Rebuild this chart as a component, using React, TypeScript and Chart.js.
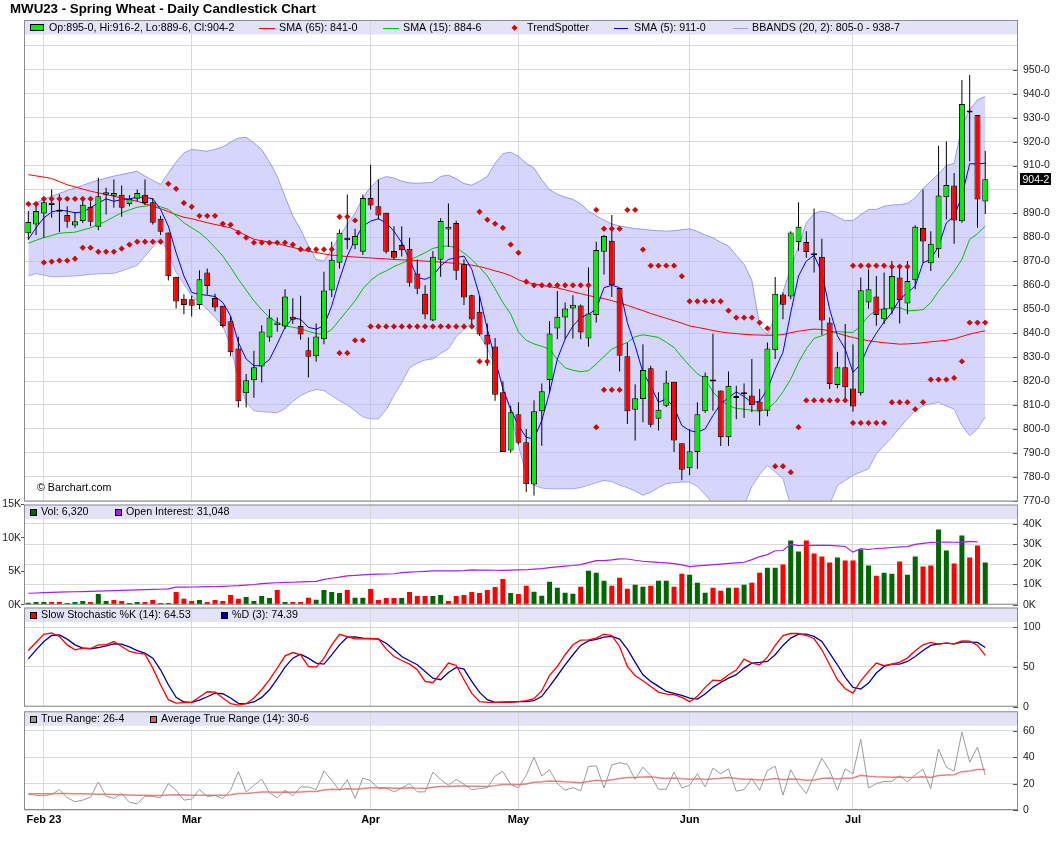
import React, { useEffect, useRef } from 'react';
import { Chart, registerables } from 'chart.js';

Chart.register(...registerables);

const FONT = '"Liberation Sans", Arial, Helvetica, sans-serif';
Chart.defaults.font.family = FONT;

// ---------------- data ----------------
const TITLE = 'MWU23 - Spring Wheat - Daily Candlestick Chart';

const DATES: string[] = [
  '2023-01-30', '2023-01-31',
  '2023-02-01', '2023-02-02', '2023-02-03', '2023-02-06', '2023-02-07', '2023-02-08', '2023-02-09', '2023-02-10',
  '2023-02-13', '2023-02-14', '2023-02-15', '2023-02-16', '2023-02-17', '2023-02-21', '2023-02-22', '2023-02-23',
  '2023-02-24', '2023-02-27', '2023-02-28',
  '2023-03-01', '2023-03-02', '2023-03-03', '2023-03-06', '2023-03-07', '2023-03-08', '2023-03-09', '2023-03-10',
  '2023-03-13', '2023-03-14', '2023-03-15', '2023-03-16', '2023-03-17', '2023-03-20', '2023-03-21', '2023-03-22',
  '2023-03-23', '2023-03-24', '2023-03-27', '2023-03-28', '2023-03-29', '2023-03-30', '2023-03-31',
  '2023-04-03', '2023-04-04', '2023-04-05', '2023-04-06', '2023-04-10', '2023-04-11', '2023-04-12', '2023-04-13',
  '2023-04-14', '2023-04-17', '2023-04-18', '2023-04-19', '2023-04-20', '2023-04-21', '2023-04-24', '2023-04-25',
  '2023-04-26', '2023-04-27', '2023-04-28',
  '2023-05-01', '2023-05-02', '2023-05-03', '2023-05-04', '2023-05-05', '2023-05-08', '2023-05-09', '2023-05-10',
  '2023-05-11', '2023-05-12', '2023-05-15', '2023-05-16', '2023-05-17', '2023-05-18', '2023-05-19', '2023-05-22',
  '2023-05-23', '2023-05-24', '2023-05-25', '2023-05-26', '2023-05-30', '2023-05-31',
  '2023-06-01', '2023-06-02', '2023-06-05', '2023-06-06', '2023-06-07', '2023-06-08', '2023-06-09', '2023-06-12',
  '2023-06-13', '2023-06-14', '2023-06-15', '2023-06-16', '2023-06-20', '2023-06-21', '2023-06-22', '2023-06-23',
  '2023-06-26', '2023-06-27', '2023-06-28', '2023-06-29', '2023-06-30',
  '2023-07-03', '2023-07-05', '2023-07-06', '2023-07-07', '2023-07-10', '2023-07-11', '2023-07-12', '2023-07-13',
  '2023-07-14', '2023-07-17', '2023-07-18', '2023-07-19', '2023-07-20', '2023-07-21', '2023-07-24', '2023-07-25',
  '2023-07-26', '2023-07-27',
];

const OPEN: number[] = [
  881.7, 885.4, 890.0, 893.5, 891.3, 889.4, 885.0, 886.9, 892.8, 884.4,
  897.8, 897.4, 897.8, 894.0, 896.1, 897.8, 894.7, 887.8, 882.0, 863.6,
  854.4, 854.2, 851.8, 865.3, 854.7, 851.4, 845.0, 833.6, 814.9, 820.3,
  826.1, 838.2, 843.3, 842.8, 846.8, 843.0, 832.9, 830.3, 837.5, 857.8,
  869.4, 879.9, 876.7, 874.0, 896.5, 893.0, 890.3, 874.3, 876.8, 875.3,
  864.9, 856.5, 845.3, 870.7, 883.3, 886.0, 868.8, 855.8, 848.9, 839.3,
  834.4, 815.3, 791.0, 806.1, 794.4, 776.8, 807.4, 820.4, 841.9, 846.5,
  850.3, 851.5, 837.8, 847.6, 874.0, 878.6, 858.9, 830.3, 808.0, 812.5,
  825.3, 804.2, 809.7, 819.7, 794.0, 783.6, 790.3, 807.4, 820.4, 816.0,
  796.5, 813.5, 815.0, 813.9, 811.4, 807.6, 832.9, 856.1, 855.3, 878.1,
  878.1, 873.2, 871.9, 844.4, 818.3, 825.7, 816.9, 814.9, 852.8, 855.3,
  845.8, 850.3, 863.2, 852.4, 862.1, 883.9, 869.2, 875.0, 896.8, 901.7,
  886.8, 932.9, 931.1, 895.0,
];
const HIGH: number[] = [
  891.0, 894.4, 896.5, 900.0, 898.0, 893.0, 890.5, 895.8, 895.0, 904.9,
  900.7, 904.2, 901.7, 897.6, 900.0, 904.2, 896.5, 889.0, 882.0, 863.6,
  856.2, 855.6, 866.3, 867.0, 856.5, 851.4, 847.0, 838.5, 822.9, 832.6,
  843.3, 850.0, 846.5, 858.3, 854.6, 855.6, 838.2, 844.0, 865.7, 878.2,
  883.3, 897.9, 883.6, 897.9, 910.4, 904.2, 890.3, 884.7, 884.7, 879.9,
  870.8, 860.0, 874.3, 888.0, 894.2, 887.0, 870.8, 856.0, 855.6, 844.0,
  838.0, 819.9, 809.7, 811.1, 800.0, 812.0, 819.0, 845.1, 857.6, 852.8,
  855.8, 852.0, 867.4, 878.2, 881.0, 889.4, 858.9, 836.0, 818.7, 835.4,
  826.4, 815.3, 824.3, 819.7, 794.0, 800.0, 811.1, 823.6, 839.8, 816.0,
  824.0, 818.0, 819.0, 829.2, 816.7, 836.1, 863.5, 857.0, 882.6, 894.7,
  882.6, 892.1, 879.4, 846.5, 832.2, 843.8, 835.4, 863.2, 866.7, 863.9,
  865.3, 870.1, 868.1, 870.1, 885.1, 900.0, 882.6, 918.3, 920.1, 906.9,
  945.8, 947.9, 931.1, 916.25,
];
const LOW: number[] = [
  879.0, 881.0, 879.9, 888.2, 882.2, 884.0, 884.0, 886.0, 884.7, 883.0,
  889.6, 892.4, 888.6, 893.0, 895.0, 893.5, 885.4, 881.0, 862.0, 850.3,
  847.9, 847.0, 850.0, 856.0, 849.0, 842.4, 830.3, 808.9, 808.9, 813.0,
  819.4, 836.4, 840.6, 841.7, 843.8, 837.2, 821.5, 828.0, 835.4, 855.1,
  867.0, 875.0, 875.0, 872.6, 891.7, 887.5, 873.3, 870.8, 872.0, 859.4,
  856.3, 845.8, 845.0, 863.6, 876.0, 862.2, 851.8, 841.9, 838.9, 826.4,
  811.8, 790.3, 790.0, 793.5, 773.6, 772.2, 793.0, 815.0, 837.5, 837.5,
  837.8, 837.5, 834.3, 844.4, 864.5, 855.1, 824.0, 802.0, 795.1, 802.8,
  800.7, 799.3, 809.0, 790.3, 778.5, 780.6, 783.3, 806.7, 807.6, 792.8,
  792.8, 804.0, 804.5, 807.0, 801.4, 805.3, 829.2, 845.8, 854.2, 874.3,
  871.5, 865.3, 839.2, 816.7, 817.0, 811.8, 807.2, 813.9, 850.3, 843.1,
  843.8, 847.9, 844.0, 847.9, 858.3, 869.4, 866.0, 871.5, 887.5, 877.4,
  886.1, 911.8, 884.0, 889.75,
];
const CLOSE: number[] = [
  886.4, 891.0, 894.7, 894.5, 890.7, 886.5, 886.8, 893.6, 886.5, 897.2,
  898.9, 898.5, 892.4, 896.2, 898.6, 894.4, 886.1, 882.4, 863.8, 853.2,
  851.8, 851.4, 862.5, 859.7, 850.7, 843.0, 832.0, 811.5, 820.3, 825.7,
  840.7, 846.5, 844.4, 855.3, 845.6, 839.4, 830.1, 838.6, 857.8, 870.7,
  881.9, 878.8, 880.6, 896.5, 893.3, 889.2, 874.0, 871.5, 874.6, 861.1,
  858.6, 847.8, 871.9, 886.9, 884.4, 866.1, 854.9, 845.7, 839.4, 835.3,
  814.3, 790.3, 806.9, 794.2, 776.9, 807.4, 815.7, 839.9, 846.9, 850.3,
  851.9, 840.3, 848.2, 874.7, 880.6, 860.0, 830.6, 807.4, 812.8, 824.6,
  801.7, 808.0, 819.4, 795.1, 782.9, 790.7, 806.1, 822.2, 819.8, 796.5,
  818.0, 812.9, 814.5, 810.0, 807.6, 833.6, 856.5, 851.9, 882.0, 884.4,
  873.9, 872.5, 845.3, 818.8, 825.7, 817.4, 809.4, 857.9, 858.3, 847.6,
  850.3, 863.9, 853.8, 861.8, 884.4, 878.3, 877.4, 897.5, 901.9, 887.1,
  935.7, 932.2, 895.8, 904.25,
];

const SMA5: number[] = [
  879.2, 884.0, 888.2, 890.6, 891.4, 891.0, 890.3, 890.6, 892.4, 894.4,
  896.1, 895.1, 895.8, 896.1, 896.8, 896.8, 896.1, 891.7, 884.7, 873.6,
  863.9, 857.0, 856.2, 855.8, 855.3, 852.8, 847.2, 836.1, 829.2, 826.4,
  826.4, 829.0, 835.5, 842.5, 846.3, 845.8, 842.4, 841.7, 843.0, 851.4,
  862.5, 872.2, 879.2, 884.7, 886.8, 887.8, 886.1, 882.6, 877.8, 870.8,
  863.2, 862.5, 863.9, 868.1, 870.8, 871.5, 872.2, 866.7, 855.6, 841.7,
  829.2, 816.7, 808.3, 801.4, 796.5, 795.8, 803.5, 815.3, 829.2, 837.5,
  843.0, 846.5, 847.9, 850.0, 859.0, 860.0, 859.0, 844.4, 834.7, 823.6,
  818.0, 811.1, 812.5, 809.0, 801.4, 799.3, 798.6, 800.0, 805.6, 810.5,
  813.0, 815.5, 813.5, 811.0, 811.5, 816.5, 825.0, 832.0, 848.6, 863.9,
  870.1, 872.5, 865.3, 850.0, 838.9, 833.3, 823.6, 827.1, 834.7, 840.0,
  844.7, 848.6, 854.2, 856.9, 859.7, 869.4, 870.8, 876.4, 886.1, 888.9,
  897.2, 910.8, 910.7, 911.0,
];
const SMA15: number[] = [
  877.5, 878.8, 879.9, 880.8, 881.7, 882.0, 882.2, 883.1, 884.0, 885.4,
  886.8, 888.6, 890.3, 891.5, 892.6, 893.1, 893.5, 892.8, 891.7, 889.0,
  886.1, 884.0, 882.0, 879.2, 875.8, 872.2, 867.5, 862.5, 858.0, 853.5,
  849.8, 846.5, 844.4, 843.0, 842.5, 841.8, 840.8, 839.8, 839.5, 841.5,
  845.5, 849.5, 853.5, 858.5, 862.0, 864.5, 866.0, 867.8, 869.2, 870.6,
  872.0, 873.6, 875.4, 876.2, 876.4, 875.7, 873.5, 870.8, 867.5, 863.9,
  858.5, 852.8, 848.0, 840.5, 837.0, 835.5, 834.5, 833.3, 829.0, 825.5,
  824.5, 823.9, 824.3, 827.1, 830.3, 833.3, 834.8, 836.1, 838.5, 839.3,
  838.8, 838.2, 836.2, 834.0, 830.0, 826.4, 823.0, 821.0, 815.5, 812.0,
  809.7, 808.6, 808.2, 807.8, 807.3, 808.3, 811.1, 815.5, 820.8, 827.8,
  833.5, 837.8, 838.9, 840.2, 840.7, 840.4, 840.3, 843.0, 847.2, 849.5,
  850.1, 850.5, 850.7, 849.3, 849.5, 849.8, 852.8, 857.5, 861.5, 865.8,
  870.8, 879.2, 881.5, 884.75,
];
const SMA65: number[] = [
  906.2, 905.7, 905.2, 904.6, 903.3, 902.0, 901.1, 900.2, 899.3, 898.6,
  897.9, 897.2, 896.5, 895.8, 895.1, 894.1, 893.0, 892.0, 890.8, 889.5,
  888.4, 887.8, 887.0, 886.1, 885.4, 884.7, 884.0, 882.4, 880.8, 879.2,
  878.6, 878.0, 877.5, 876.6, 875.8, 875.0, 874.3, 873.7, 873.1, 872.6,
  872.3, 872.0, 871.8, 871.6, 871.4, 871.2, 871.0, 870.8, 870.6, 870.5,
  870.3, 870.1, 869.9, 869.7, 869.4, 869.1, 868.8, 868.4, 867.8, 867.0,
  866.0, 865.2, 864.0, 862.3, 861.2, 860.6, 860.0, 859.4, 858.9, 858.1,
  857.3, 856.5, 855.7, 855.1, 854.4, 853.6, 852.6, 851.6, 850.5, 849.4,
  848.2, 847.2, 846.2, 845.2, 844.2, 843.0, 842.4, 841.8, 841.1, 840.5,
  840.1, 839.8, 839.5, 839.3, 839.2, 839.1, 839.2, 839.4, 840.2, 840.8,
  841.3, 841.7, 841.5, 841.0, 840.0, 839.0, 838.2, 837.5, 836.8, 836.4,
  836.0, 835.7, 835.4, 835.5, 835.7, 836.0, 836.4, 836.7, 837.0, 837.6,
  838.6, 839.6, 840.3, 841.0,
];
const BB_UP: number[] = [
  893.0, 894.5, 896.0, 897.2, 898.4, 899.6, 900.7, 901.8, 902.9, 903.9,
  904.8, 905.6, 906.3, 907.0, 907.6, 905.6, 903.8, 902.1, 906.9, 911.5,
  915.3, 916.7, 916.4, 916.0, 916.8, 917.8, 919.8, 921.5, 921.8, 919.5,
  916.7, 911.5, 905.5, 897.0, 889.0, 883.3, 876.5, 870.8, 870.1, 875.0,
  880.5, 885.5, 890.0, 896.5, 901.0, 904.2, 905.4, 904.8, 903.5, 902.8,
  902.6, 902.8, 903.0, 905.5, 906.0, 904.5, 902.5, 901.8, 903.5, 905.5,
  911.0, 915.0, 915.6, 913.9, 911.0, 909.0, 904.0, 900.0, 898.0, 896.8,
  895.9, 894.0, 891.0, 889.0, 887.2, 885.6, 884.8, 884.2, 883.7, 883.4,
  883.0, 882.8, 882.6, 882.8, 883.2, 883.6, 882.5, 881.0, 879.8, 878.0,
  876.4, 872.5, 868.7, 862.0, 843.0, 839.5, 847.0, 857.0, 867.0, 876.4,
  886.0, 890.0, 891.0, 890.3, 888.5, 887.0, 887.1, 889.5, 891.7, 891.7,
  893.0, 893.5, 893.7, 894.2, 896.5, 900.5, 903.5, 906.5, 910.0, 911.0,
  926.4, 933.3, 937.5, 938.875,
];
const BB_LO: number[] = [
  863.9, 864.9, 864.2, 863.6, 863.6, 863.8, 863.9, 864.2, 864.6, 864.8,
  864.9, 865.0, 866.0, 867.2, 868.3, 872.2, 876.0, 879.9, 873.6, 865.3,
  860.5, 855.6, 852.8, 850.0, 846.5, 843.0, 834.7, 820.8, 811.1, 807.6,
  807.2, 807.0, 806.7, 808.5, 811.5, 813.9, 815.5, 816.5, 816.0, 813.9,
  811.8, 810.0, 807.5, 805.0, 804.2, 804.2, 808.0, 814.0, 819.4, 825.5,
  827.5, 828.8, 829.3, 831.5, 833.5, 838.5, 841.5, 844.4, 839.5, 833.5,
  826.5, 819.0, 806.0, 793.0, 781.0, 776.5, 775.3, 775.0, 775.0, 775.0,
  775.0, 775.5, 776.5, 777.5, 778.5, 778.0, 776.5, 775.5, 774.0, 772.3,
  773.5, 775.5, 777.1, 777.5, 777.8, 777.8, 776.0, 772.5, 769.0, 767.0,
  766.0, 766.0, 768.0, 776.0, 781.0, 784.7, 782.0, 779.2, 768.0, 766.0,
  765.0, 765.0, 766.0, 768.5, 776.4, 778.5, 780.6, 782.0, 783.3, 789.6,
  793.0, 796.5, 800.5, 804.2, 807.5, 809.7, 810.5, 811.1, 809.5, 808.3,
  801.4, 797.2, 800.0, 805.0,
];
const TS_UP: (number | null)[] = [
  894.0, 894.0, 896.1, 896.1, 896.1, 896.1, 896.1, 896.1, 896.1, null,
  null, null, null, null, null, null, null, null, 902.4, 900.3,
  894.4, 892.8, 889.0, 889.0, 889.0, 885.7, 885.3, 882.0, 879.9, 877.8,
  877.8, 877.8, 877.8, 877.8, 877.0, 875.0, 875.0, 875.0, 875.0, 875.0,
  888.6, 888.6, 887.1, null, null, null, null, null, null, null,
  null, null, null, null, null, null, null, null, 890.7, 887.4,
  885.7, 884.0, 877.0, 873.6, 861.5, 860.0, 860.0, 860.0, 860.0, 860.0,
  860.0, 860.0, 860.0, 891.5, 883.6, 883.6, 883.6, 891.5, 891.5, 874.9,
  868.2, 868.2, 868.2, 868.2, 863.8, 853.3, 853.3, 853.3, 853.3, 853.3,
  849.4, 846.5, 846.5, 846.5, 844.4, 842.0, null, null, null, null,
  null, null, null, null, null, null, 868.2, 868.2, 868.2, 868.2,
  868.2, 867.8, 867.8, 867.8, null, null, null, null, null, null,
  null, null, null, null,
];
const TS_LO: (number | null)[] = [
  null, null, 869.5, 869.9, 870.3, 870.3, 871.1, 875.7, 875.7, 874.0,
  874.0, 874.0, 875.3, 877.0, 878.2, 878.2, 878.2, 878.2, null, null,
  null, null, null, null, null, null, null, null, null, null,
  null, null, null, null, null, null, null, null, null, null,
  831.7, 831.7, 837.0, 837.0, 842.8, 842.8, 842.8, 842.8, 842.8, 842.8,
  842.8, 842.8, 842.8, 842.8, 842.8, 842.8, 842.8, 842.8, 828.2, 828.2,
  null, null, null, null, null, null, null, null, null, null,
  null, null, null, 800.7, 816.3, 816.3, 816.3, null, null, null,
  null, null, null, null, null, null, null, null, null, null,
  null, null, null, null, null, null, 784.4, 784.4, 781.9, 800.7,
  811.9, 811.9, 811.9, 811.9, 811.9, 811.9, 802.5, 802.5, 802.5, 802.5,
  802.5, 811.1, 811.1, 811.1, 808.2, 811.1, 820.6, 820.6, 820.6, 821.3,
  828.2, 844.4, 844.4, 844.4,
];

const VOLUME: number[] = [
  300, 400, 400, 400, 400, 250, 400, 550, 400, 1600,
  550, 700, 550, 250, 400, 400, 700, 250, 250, 1900,
  900, 550, 700, 400, 700, 550, 1450, 900, 1150, 550,
  1300, 1000, 2200, 400, 400, 400, 1050, 750, 2200, 1900,
  1750, 2200, 1050, 1050, 2350, 700, 1000, 1000, 1000, 1900,
  1300, 1300, 1300, 1450, 550, 1300, 1450, 1900, 1750, 2200,
  2650, 3850, 1750, 1600, 2850, 1950, 1350, 3450, 2550, 1800,
  1650, 2700, 5100, 4800, 3600, 2850, 4050, 2400, 3000, 2700,
  2850, 3600, 3600, 2700, 4650, 4500, 3300, 1800, 2550, 2100,
  2550, 2550, 3000, 3300, 4800, 5550, 5550, 6000, 9600, 7950,
  9600, 7650, 7200, 6300, 7050, 6600, 6600, 8250, 5850, 4350,
  4800, 4650, 6450, 4500, 7200, 5700, 5850, 11250, 8100, 6150,
  10350, 7050, 8850, 6320,
];
const OPEN_INT: (number | null)[] = [
  5670, 5800, 5930, 6070, 6200, 6300, 6400, 6500, 6600, 6700,
  6830, 6970, 7100, 7250, 7350, 7450, 7550, 7650, 7800, 8650,
  8700, 8750, 8800, 8900, 9000, 9100, 9250, 9400, 9700, 10000,
  10400, 10700, 10850, 11000, 11100, 11250, 11400, 11500, 12500, 13100,
  13600, 14300, 14500, 14800, 15000, 15100, 15200, 15300, 15900, 16100,
  16300, 16500, 16700, 16800, 16750, 16700, 16900, 17200, 17150, 17100,
  17050, 17000, 17100, 17200, 17300, 17600, 17800, 18300, 18700, 19100,
  19400, 19800, 20800, 21800, 21800, 22200, 22700, 22600, 22000, 21500,
  21200, 20900, 20700, 20300, 19700, 18800, 19200, 19500, 19800, 20100,
  20400, 20700, 21000, 22300, 23800, 24800, 26700, 26800, 30000, 29200,
  29300, 29300, 29400, 29300, 29100, 28800, 26000, 27700, 27300, 27800,
  28000, 28300, 28600, 28700, 29800, 30300, 30800, 30900, 31000, 30900,
  30800, 31300, 31048, null,
];

const STOCH_K: number[] = [
  70.6, 81.0, 91.0, 92.8, 88.2, 77.7, 71.5, 73.6, 73.2, 77.7,
  77.7, 81.9, 75.7, 69.4, 67.3, 66.0, 48.5, 27.6, 8.8, 4.6,
  5.0, 5.4, 12.1, 18.8, 18.4, 10.9, 3.8, 2.1, 3.8, 10.9,
  21.3, 33.9, 48.5, 64.0, 68.1, 65.2, 50.6, 49.7, 61.0, 77.7,
  91.0, 88.2, 85.3, 85.3, 85.7, 85.3, 72.3, 63.1, 58.1, 53.5,
  46.4, 31.8, 30.1, 42.2, 54.8, 51.8, 33.9, 16.7, 6.3, 5.4,
  5.4, 5.9, 5.9, 6.3, 7.5, 10.0, 20.1, 39.3, 50.6, 65.3,
  77.8, 83.7, 84.1, 86.2, 91.2, 89.5, 75.7, 50.6, 38.9, 32.6,
  25.5, 18.4, 15.9, 15.1, 11.7, 6.3, 13.0, 24.3, 33.5, 32.6,
  40.2, 46.0, 59.8, 54.8, 52.7, 62.3, 77.0, 89.5, 92.0, 92.0,
  89.5, 85.4, 71.5, 52.7, 33.9, 22.6, 17.2, 32.6, 44.4, 54.8,
  51.5, 53.6, 56.1, 61.1, 70.3, 77.8, 80.8, 78.7, 79.9, 79.1,
  82.8, 82.4, 77.0, 64.53,
];
const STOCH_D: number[] = [
  60.2, 71.5, 81.9, 89.5, 90.3, 84.9, 77.7, 73.6, 72.7, 74.4,
  76.5, 79.0, 78.6, 75.2, 70.6, 67.3, 61.0, 46.4, 27.6, 11.7,
  5.9, 5.4, 8.4, 12.5, 17.1, 16.3, 10.9, 4.2, 3.8, 5.9,
  11.7, 21.3, 35.1, 49.7, 61.0, 66.0, 61.0, 54.8, 53.5, 65.2,
  77.7, 87.4, 87.8, 86.1, 85.7, 84.9, 79.8, 71.5, 63.1, 57.7,
  52.7, 44.3, 35.9, 33.9, 43.0, 49.3, 47.2, 31.8, 18.0, 8.8,
  5.4, 5.4, 5.9, 6.3, 6.3, 7.5, 13.0, 25.5, 38.9, 52.7,
  65.3, 77.0, 82.8, 84.5, 87.4, 88.3, 84.9, 72.4, 56.1, 40.2,
  31.8, 25.5, 19.2, 16.7, 14.2, 10.9, 9.6, 15.9, 24.3, 30.5,
  36.0, 40.2, 48.5, 54.8, 55.6, 56.9, 65.3, 77.0, 86.2, 91.2,
  91.2, 88.3, 82.0, 67.4, 52.7, 36.8, 24.3, 22.2, 29.7, 42.3,
  50.6, 53.6, 53.6, 56.9, 63.2, 70.7, 77.0, 79.1, 79.9, 79.1,
  81.2, 81.2, 80.8, 74.39,
];
const TRUE_RANGE: number[] = [
  11.75, 11.25, 10.75, 11.75, 15.5, 9.25, 6.25, 7.5, 9.75, 21.25,
  10.5, 8.75, 12.5, 5.75, 4.75, 10.5, 10.25, 9.25, 20.0, 15.0,
  7.5, 8.25, 15.5, 10.25, 11.0, 8.75, 15.0, 29.25, 13.75, 18.75,
  23.5, 13.0, 9.25, 15.0, 10.75, 17.5, 17.5, 15.5, 29.75, 22.5,
  14.75, 23.0, 8.75, 24.25, 22.25, 16.25, 16.75, 13.75, 16.75, 20.0,
  13.75, 13.75, 28.75, 23.25, 18.75, 23.25, 19.5, 15.5, 16.25, 17.0,
  25.75, 29.25, 19.5, 16.75, 26.25, 40.0, 25.75, 30.5, 20.0, 15.0,
  17.0, 14.5, 33.0, 33.5, 16.75, 34.25, 35.75, 34.75, 23.25, 32.5,
  26.25, 15.75, 15.75, 28.75, 16.75, 18.75, 27.5, 17.5, 31.75, 27.5,
  31.25, 14.25, 15.5, 23.75, 15.0, 30.0, 33.25, 11.25, 30.5, 20.0,
  12.5, 26.25, 39.25, 30.0, 15.0, 31.25, 27.5, 53.75, 16.75, 20.0,
  21.75, 21.75, 26.0, 21.25, 26.75, 30.75, 16.25, 46.25, 32.5, 29.5,
  59.25, 36.25, 47.75, 26.5,
];
const ATR14: number[] = [
  12.25, 12.25, 12.3, 12.4, 12.5, 12.5, 12.4, 12.3, 12.2, 12.0,
  11.9, 11.7, 11.5, 11.3, 11.2, 11.1, 11.0, 11.0, 11.4, 11.5,
  11.3, 11.1, 11.2, 11.1, 11.1, 11.2, 11.5, 12.5, 12.6, 13.0,
  13.6, 13.6, 13.4, 13.6, 13.4, 13.7, 14.0, 14.1, 15.2, 15.7,
  15.6, 16.2, 15.7, 16.4, 16.8, 16.8, 16.8, 16.6, 16.6, 16.8,
  16.6, 16.4, 17.3, 17.8, 17.8, 18.2, 18.3, 18.1, 18.0, 17.9,
  18.5, 19.3, 19.3, 19.2, 19.7, 21.1, 21.4, 22.0, 21.9, 21.4,
  21.1, 20.7, 21.6, 22.5, 22.1, 23.0, 23.9, 24.7, 24.6, 25.1,
  25.2, 24.5, 23.9, 24.2, 23.7, 23.4, 23.7, 23.2, 23.8, 24.1,
  24.6, 23.9, 23.3, 23.3, 22.7, 23.2, 23.9, 23.0, 23.5, 23.3,
  22.5, 22.8, 23.9, 24.3, 23.6, 24.1, 24.3, 26.4, 25.7, 25.3,
  25.1, 24.9, 25.0, 24.7, 24.9, 25.3, 24.6, 26.2, 26.6, 26.8,
  29.1, 29.6, 30.8, 30.75,
];

const PRICE_TICKS = [770, 780, 790, 800, 810, 820, 830, 840, 850, 860, 870, 880, 890, 900, 910, 920, 930, 940, 950, 960];
const VOL_TICKS = [0, 5000, 10000, 15000];
const OI_TICKS = [0, 10000, 20000, 30000, 40000];
const STOCH_TICKS = [0, 50, 100];
const TR_TICKS = [0, 20, 40, 60];

// ---------------- helpers ----------------
const N = CLOSE.length;
const LAST = N - 1;
const IDX = CLOSE.map((_, i) => i);
const MONTHS = ['Jan', 'Feb', 'Mar', 'Apr', 'May', 'Jun', 'Jul', 'Aug', 'Sep', 'Oct', 'Nov', 'Dec'];
const MONTH_STARTS = IDX.filter((i) => i > 0 && DATES[i].slice(5, 7) !== DATES[i - 1].slice(5, 7));

function monthLabel(v: number): string {
  const k = MONTH_STARTS.indexOf(Math.round(v));
  if (k < 0) return '';
  const d = DATES[MONTH_STARTS[k]];
  const name = MONTHS[Number(d.slice(5, 7)) - 1];
  return k === 0 ? `${name} ${d.slice(2, 4)}` : name;
}

function fmt8(v: number): string {
  let whole = Math.floor(v + 1e-9);
  let e = Math.round((v - whole) * 8);
  if (e === 8) {
    whole += 1;
    e = 0;
  }
  return `${whole}-${e}`;
}

const lastDefined = (arr: (number | null)[]) => {
  for (let i = arr.length - 1; i >= 0; i--) if (arr[i] != null) return arr[i] as number;
  return 0;
};

const pts = (arr: (number | null)[]) => arr.map((y, x) => ({ x, y }));

// ---------------- styling ----------------
const W = 1060;
const AXIS_R = 42;
const AXIS_L = 24;
const X_MIN = -0.553;
const X_MAX = 127.21;
const GRID = '#d9d9d9';
const BORDER = '#8c8c8c';
const BAND = '#e3e3f8';
const BAND_H = 14.5;
const TICK_FONT = { family: FONT, size: 10.5 };
const LEGEND_FONT = `10.7px ${FONT}`;
const CANDLE_UP = '#00ee00';
const CANDLE_DN = '#ff0000';
const VOL_UP = '#006600';
const VOL_DN = '#ff0000';
const TS_COLOR = '#e00000';
const BB_LINE = 'rgba(140,140,240,0.85)';
const BB_FILL = 'rgba(180,180,250,0.55)';
const OI_COLOR = '#a020f0';

type Item = { kind: 'box' | 'square' | 'line' | 'diamond'; color: string; x: number; w?: number; tx: number; text: string };

function xAxis(showLabels: boolean): any {
  return {
    type: 'linear',
    min: X_MIN,
    max: X_MAX,
    bounds: 'data',
    offset: false,
    afterBuildTicks: (s: any) => {
      s.ticks = MONTH_STARTS.map((value) => ({ value }));
    },
    afterFit: (s: any) => {
      s.height = showLabels ? 41 : 0;
    },
    ticks: {
      display: showLabels,
      autoSkip: false,
      maxRotation: 0,
      padding: 3,
      color: '#000',
      font: { family: FONT, size: 11, weight: 'bold' },
      callback: (v: number) => monthLabel(v),
    },
    grid: { color: GRID, lineWidth: 1, drawTicks: false, offset: false },
    border: { display: false },
  };
}

function yRight(min: number, max: number, ticks: number[], fmt: (v: number) => string): any {
  return {
    type: 'linear',
    position: 'right',
    min,
    max,
    bounds: 'data',
    afterBuildTicks: (s: any) => {
      s.ticks = ticks.map((value) => ({ value }));
    },
    afterFit: (s: any) => {
      s.width = AXIS_R;
    },
    ticks: { callback: (v: number) => fmt(v), color: '#222', font: TICK_FONT, padding: 5, autoSkip: false },
    grid: { color: GRID, lineWidth: 1, drawTicks: false },
    border: { display: false },
  };
}

function lineDs(data: (number | null)[], color: string, label: string, order: number, width = 1, yAxisID = 'y'): any {
  return {
    type: 'line',
    label,
    data: pts(data),
    yAxisID,
    borderColor: color,
    borderWidth: width,
    pointRadius: 0,
    tension: 0,
    fill: false,
    order,
  };
}

function decorPlugin(items: Item[], axisId: string, extra?: (chart: any) => void): any {
  return {
    id: 'panelDecor',
    beforeDraw(chart: any) {
      const { ctx, chartArea: a } = chart;
      ctx.save();
      ctx.fillStyle = BAND;
      ctx.fillRect(a.left, a.top, a.right - a.left, BAND_H);
      ctx.restore();
    },
    afterDraw(chart: any) {
      const { ctx, chartArea: a } = chart;
      ctx.save();
      // inward tick marks on the right axis
      const sc = chart.scales[axisId];
      ctx.strokeStyle = '#555';
      ctx.lineWidth = 1;
      sc.ticks.forEach((t: any) => {
        if (!t.label) return;
        const y = Math.round(sc.getPixelForValue(t.value)) + 0.5;
        ctx.beginPath();
        ctx.moveTo(a.right - 5, y);
        ctx.lineTo(a.right, y);
        ctx.stroke();
      });
      // panel frame
      ctx.strokeStyle = BORDER;
      ctx.lineWidth = 1;
      ctx.strokeRect(a.left + 0.5, a.top + 0.5, a.right - a.left - 1, a.bottom - a.top - 1);
      // legend
      const cy = a.top + BAND_H / 2 + 0.5;
      ctx.textBaseline = 'middle';
      ctx.textAlign = 'left';
      items.forEach((it) => {
        if (it.kind === 'box' || it.kind === 'square') {
          const w = it.kind === 'box' ? 14 : 7;
          ctx.fillStyle = it.color;
          ctx.fillRect(it.x, Math.round(cy - 3.5), w, 7);
          ctx.strokeStyle = '#000';
          ctx.strokeRect(it.x + 0.5, Math.round(cy - 3.5) + 0.5, w - 1, 6);
        } else if (it.kind === 'line') {
          ctx.strokeStyle = it.color;
          ctx.lineWidth = 1;
          ctx.beginPath();
          ctx.moveTo(it.x, Math.round(cy) + 0.5);
          ctx.lineTo(it.x + (it.w || 15), Math.round(cy) + 0.5);
          ctx.stroke();
        } else {
          ctx.fillStyle = it.color;
          ctx.beginPath();
          ctx.moveTo(it.x, cy - 3);
          ctx.lineTo(it.x + 3, cy);
          ctx.lineTo(it.x, cy + 3);
          ctx.lineTo(it.x - 3, cy);
          ctx.closePath();
          ctx.fill();
        }
        ctx.fillStyle = '#000';
        ctx.font = LEGEND_FONT;
        ctx.fillText(it.text, it.tx, cy);
      });
      if (extra) extra(chart);
      ctx.restore();
    },
  };
}

const baseOptions = (padding: any) => ({
  responsive: false,
  maintainAspectRatio: false,
  animation: false,
  events: [],
  layout: { padding },
  plugins: { legend: { display: false }, tooltip: { enabled: false }, title: { display: false } },
});

// ---------------- charts ----------------
function mainConfig(): any {
  const tsPoint = {
    type: 'line',
    showLine: false,
    pointStyle: 'rectRot',
    pointRadius: 2.7,
    pointBackgroundColor: TS_COLOR,
    pointBorderColor: '#a00000',
    pointBorderWidth: 0.6,
    order: 0,
  };
  const items: Item[] = [
    { kind: 'box', color: CANDLE_UP, x: 30, tx: 49, text: `Op:${fmt8(OPEN[LAST])}, Hi:${fmt8(HIGH[LAST])}, Lo:${fmt8(LOW[LAST])}, Cl:${fmt8(CLOSE[LAST])}` },
    { kind: 'line', color: '#ff0000', x: 259, w: 16, tx: 279, text: `SMA (65): ${fmt8(SMA65[LAST])}` },
    { kind: 'line', color: '#00c000', x: 383, w: 16, tx: 403, text: `SMA (15): ${fmt8(SMA15[LAST])}` },
    { kind: 'diamond', color: TS_COLOR, x: 514.5, tx: 527, text: 'TrendSpotter' },
    { kind: 'line', color: '#0000ff', x: 614, w: 14, tx: 634, text: `SMA (5): ${fmt8(SMA5[LAST])}` },
    { kind: 'line', color: '#9f9ff5', x: 733, w: 15, tx: 752, text: `BBANDS (20, 2): ${fmt8(BB_LO[LAST])} - ${fmt8(BB_UP[LAST])}` },
  ];
  const extra = (chart: any) => {
    const { ctx } = chart;
    ctx.fillStyle = '#000';
    ctx.font = `bold 13.3px ${FONT}`;
    ctx.textBaseline = 'middle';
    ctx.fillText(TITLE, 10, 9);
    ctx.font = LEGEND_FONT;
    ctx.fillText('\u00A9 Barchart.com', 37, 488);
    const y = chart.scales.y.getPixelForValue(CLOSE[LAST]);
    ctx.fillRect(1020, Math.round(y) - 6, 31, 12);
    ctx.fillStyle = '#fff';
    ctx.font = `10.5px ${FONT}`;
    ctx.fillText(fmt8(CLOSE[LAST]), 1022.5, y + 0.5);
  };
  return {
    type: 'bar',
    data: {
      datasets: [
        { ...tsPoint, label: 'TrendSpotter', data: pts(TS_UP) },
        { ...tsPoint, label: 'TrendSpotter (support)', data: pts(TS_LO) },
        {
          type: 'bar',
          label: 'Body',
          data: IDX.map((i) => ({ x: i, y: [OPEN[i], CLOSE[i]] })),
          backgroundColor: IDX.map((i) => (CLOSE[i] >= OPEN[i] ? CANDLE_UP : CANDLE_DN)),
          borderColor: '#000',
          borderWidth: 1,
          borderSkipped: false,
          barThickness: 6,
          minBarLength: 2,
          grouped: false,
          inflateAmount: 0,
          order: 1,
        },
        {
          type: 'bar',
          label: 'Wick',
          data: IDX.map((i) => ({ x: i, y: [LOW[i], HIGH[i]] })),
          backgroundColor: '#000',
          borderWidth: 0,
          barThickness: 1,
          grouped: false,
          inflateAmount: 0,
          order: 2,
        },
        lineDs(SMA5, '#0000ff', 'SMA (5)', 3),
        lineDs(SMA15, '#00c000', 'SMA (15)', 3),
        lineDs(SMA65, '#ff0000', 'SMA (65)', 3),
        { ...lineDs(BB_UP, BB_LINE, 'BBANDS upper', 6), fill: '+1', backgroundColor: BB_FILL },
        { ...lineDs(BB_LO, BB_LINE, 'BBANDS lower', 6), fill: false },
      ],
    },
    options: {
      ...baseOptions({ left: AXIS_L, right: 0, top: 20, bottom: 10 }),
      scales: {
        x: xAxis(false),
        y: yRight(769.58, 970.83, PRICE_TICKS, (v) => (v > 950 || Math.abs(v - CLOSE[LAST]) < 5 ? '' : fmt8(v))),
      },
    },
    plugins: [decorPlugin(items, 'y', extra)],
  };
}

function volumeConfig(): any {
  const items: Item[] = [
    { kind: 'square', color: VOL_UP, x: 30, tx: 41, text: `Vol: ${VOLUME[LAST].toLocaleString('en-US')}` },
    { kind: 'square', color: OI_COLOR, x: 115, tx: 126, text: `Open Interest: ${lastDefined(OPEN_INT).toLocaleString('en-US')}` },
  ];
  return {
    type: 'bar',
    data: {
      datasets: [
        lineDs(OPEN_INT, OI_COLOR, 'Open Interest', 0, 1.2, 'yOI'),
        {
          type: 'bar',
          label: 'Vol',
          data: pts(VOLUME),
          yAxisID: 'yVol',
          backgroundColor: IDX.map((i) => (i === 0 || CLOSE[i] >= CLOSE[i - 1] ? VOL_UP : VOL_DN)),
          borderWidth: 0,
          barThickness: 5,
          grouped: false,
          inflateAmount: 0,
          order: 1,
        },
      ],
    },
    options: {
      ...baseOptions({ left: 0, right: 0, top: 12.5, bottom: 10.5 }),
      scales: {
        x: xAxis(false),
        yVol: {
          type: 'linear',
          position: 'left',
          min: 0,
          max: 15000,
          bounds: 'data',
          afterBuildTicks: (s: any) => {
            s.ticks = VOL_TICKS.map((value) => ({ value }));
          },
          afterFit: (s: any) => {
            s.width = AXIS_L;
          },
          ticks: { callback: (v: number) => `${v / 1000}K`, color: '#222', font: TICK_FONT, padding: 0, autoSkip: false },
          grid: { drawOnChartArea: false, drawTicks: true, tickLength: 3, tickColor: '#555' },
          border: { display: false },
        },
        yOI: yRight(0, 49570, OI_TICKS, (v) => `${v / 1000}K`),
      },
    },
    plugins: [decorPlugin(items, 'yOI')],
  };
}

function stochConfig(): any {
  const items: Item[] = [
    { kind: 'square', color: '#ff0000', x: 30, tx: 41, text: `Slow Stochastic %K (14): ${STOCH_K[LAST].toFixed(2)}` },
    { kind: 'square', color: '#000099', x: 221, tx: 232, text: `%D (3): ${STOCH_D[LAST].toFixed(2)}` },
  ];
  return {
    type: 'line',
    data: {
      datasets: [lineDs(STOCH_K, '#ff0000', '%K', 0, 1.3), lineDs(STOCH_D, '#000099', '%D', 1, 1.3)],
    },
    options: {
      ...baseOptions({ left: AXIS_L, right: 0, top: 12.5, bottom: 10.5 }),
      scales: { x: xAxis(false), y: yRight(0, 124.7, STOCH_TICKS, (v) => String(v)) },
    },
    plugins: [decorPlugin(items, 'y')],
  };
}

function trConfig(): any {
  const items: Item[] = [
    { kind: 'square', color: '#999999', x: 30, tx: 41, text: `True Range: ${fmt8(TRUE_RANGE[LAST])}` },
    { kind: 'square', color: '#cd6b6b', x: 150, tx: 161, text: `Average True Range (14): ${fmt8(ATR14[LAST])}` },
  ];
  return {
    type: 'line',
    data: {
      datasets: [
        lineDs(ATR14, 'rgba(220,110,110,0.85)', 'ATR', 0, 1.5),
        lineDs(TRUE_RANGE, '#9a9a9a', 'True Range', 1, 1),
      ],
    },
    options: {
      ...baseOptions({ left: AXIS_L, right: 0, top: 11, bottom: 0 }),
      scales: { x: xAxis(true), y: yRight(0, 74.9, TR_TICKS, (v) => String(v)) },
    },
    plugins: [decorPlugin(items, 'y')],
  };
}

function ChartCanvas({ top, height, make }: { top: number; height: number; make: () => any }) {
  const ref = useRef<HTMLCanvasElement | null>(null);
  useEffect(() => {
    if (!ref.current) return;
    const chart = new Chart(ref.current, make());
    return () => chart.destroy();
  }, [make]);
  return (
    <canvas
      ref={ref}
      width={W}
      height={height}
      style={{ position: 'absolute', left: 0, top, width: W, height, display: 'block' }}
    />
  );
}

export default function App() {
  useEffect(() => {
    document.body.style.margin = '0';
    document.body.style.background = '#fff';
  }, []);
  return (
    <div style={{ position: 'absolute', left: 0, top: 0, width: W, height: 851, background: '#fff', overflow: 'hidden' }}>
      <ChartCanvas top={0} height={513} make={mainConfig} />
      <ChartCanvas top={492} height={124} make={volumeConfig} />
      <ChartCanvas top={595} height={123} make={stochConfig} />
      <ChartCanvas top={700} height={151} make={trConfig} />
    </div>
  );
}
